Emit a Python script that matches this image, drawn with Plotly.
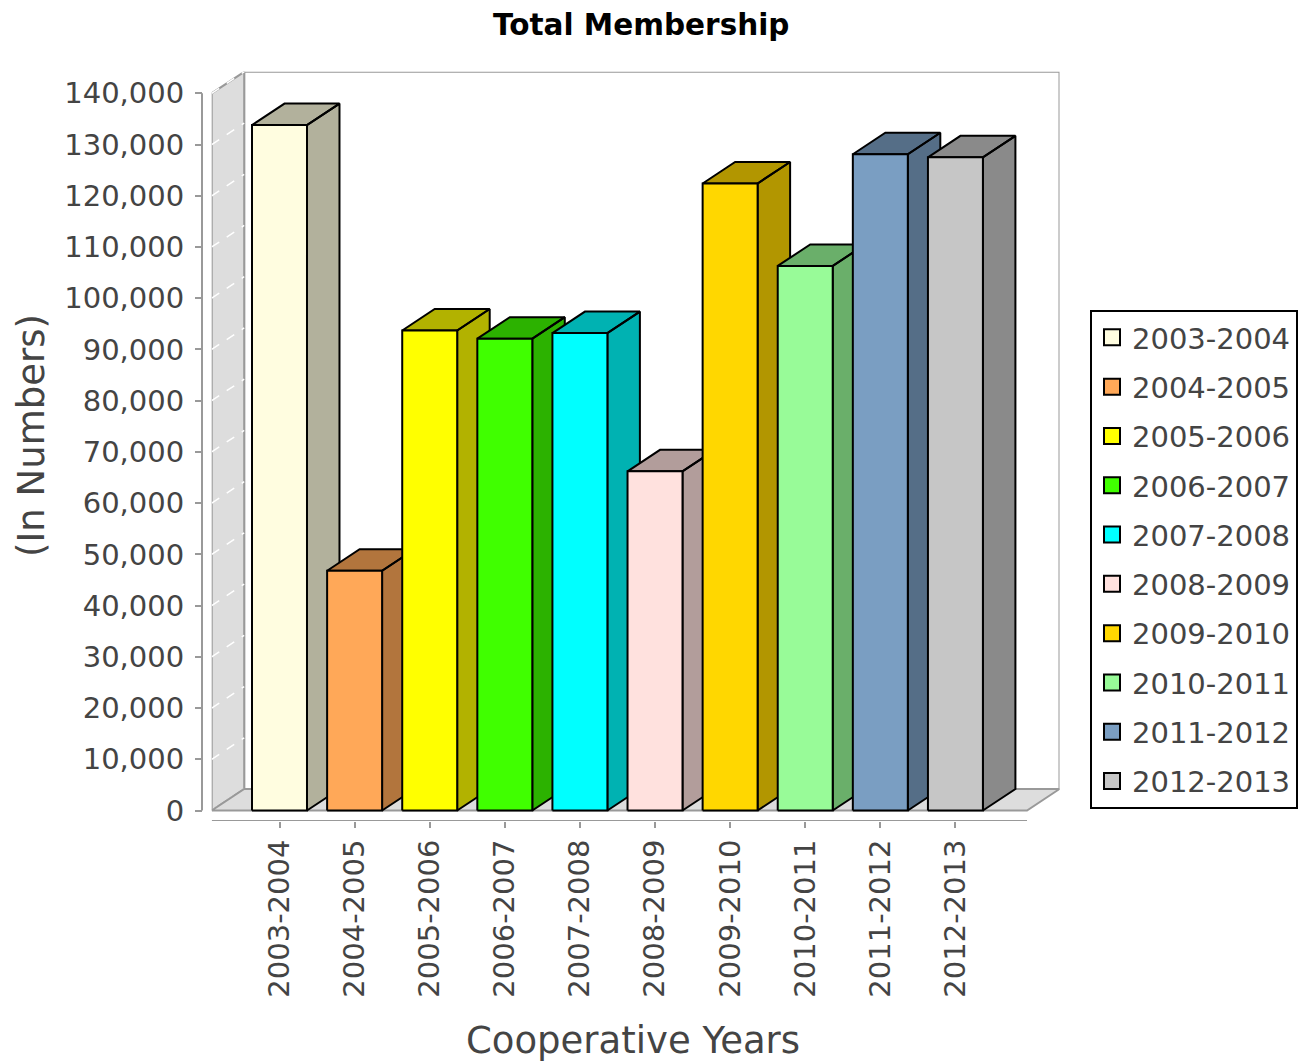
import plotly.graph_objects as go

# ---- data ----
categories = ["2003-2004", "2004-2005", "2005-2006", "2006-2007", "2007-2008",
              "2008-2009", "2009-2010", "2010-2011", "2011-2012", "2012-2013"]
members = [133800, 46800, 93700, 92100, 93200, 66200, 122400, 106300, 128100, 127500]
front_colors = ["#FFFDE0", "#FFA858", "#FFFF00", "#40FF00", "#00FFFF",
                "#FFE1DE", "#FFD700", "#98FB98", "#7A9EC2", "#C6C6C6"]
y_ticks = list(range(0, 140001, 10000))

# ---- geometry (in data units) ----
W, H = 1305, 1062
ML, MR, MT, MB = 100, 0, 60, 20
PW = W - ML - MR
PH = H - MT - MB

bar_w = 0.732          # front face width (category units)
depth_x = 0.4328       # 3D offset in category units
depth_y = 4197         # 3D offset in value units
x_lo, x_hi = -0.9028, 9.953      # front plane extents
y_lo = -2050
y_max = 140000


def darker(hexcol, f=0.7):
    h = hexcol.lstrip("#")
    r, g, b = (int(h[i:i + 2], 16) for i in (0, 2, 4))
    return "#%02X%02X%02X" % (int(r * f), int(g * f), int(b * f))


fig = go.Figure()

wall_line = "#999999"

# back wall
bx0, bx1 = x_lo + depth_x, x_hi + depth_x
fig.add_trace(go.Scatter(
    x=[bx0, bx0, bx1, bx1, bx0], y=[depth_y, y_max + depth_y, y_max + depth_y, depth_y, depth_y],
    mode="lines", fill="toself", fillcolor="#FFFFFF",
    line=dict(color=wall_line, width=2), showlegend=False, hoverinfo="skip"))

# left wall
fig.add_trace(go.Scatter(
    x=[x_lo, x_lo, x_lo + depth_x, x_lo + depth_x, x_lo],
    y=[0, y_max, y_max + depth_y, depth_y, 0],
    mode="lines", fill="toself", fillcolor="#DDDDDD",
    line=dict(color=wall_line, width=2), showlegend=False, hoverinfo="skip"))

# gridlines on the left wall
gx, gy = [], []
for t in y_ticks:
    gx += [x_lo, x_lo + depth_x, None]
    gy += [t, t + depth_y, None]
fig.add_trace(go.Scatter(x=gx, y=gy, mode="lines",
                         line=dict(color="#FFFFFF", width=1.5, dash="dash"),
                         showlegend=False, hoverinfo="skip"))

# floor
fig.add_trace(go.Scatter(
    x=[x_lo, x_lo + depth_x, x_hi + depth_x, x_hi, x_lo],
    y=[0, depth_y, depth_y, 0, 0],
    mode="lines", fill="toself", fillcolor="#DDDDDD",
    line=dict(color=wall_line, width=2), showlegend=False, hoverinfo="skip"))

# bars (drawn left to right so later bars hide earlier side faces)
for i, (cat, v, col) in enumerate(zip(categories, members, front_colors)):
    l, r = i - bar_w / 2, i + bar_w / 2
    sx = [r, r, r + depth_x, r + depth_x, r, None,
          l, l + depth_x, r + depth_x, r, l]
    sy = [0, v, v + depth_y, depth_y, 0, None,
          v, v + depth_y, v + depth_y, v, v]
    fig.add_trace(go.Scatter(x=sx, y=sy, mode="lines", fill="toself",
                             fillcolor=darker(col), line=dict(color="#000000", width=2),
                             showlegend=False, hoverinfo="skip"))
    fig.add_trace(go.Scatter(x=[l, l, r, r, l], y=[0, v, v, 0, 0], mode="lines",
                             fill="toself", fillcolor=col,
                             line=dict(color="#000000", width=2),
                             showlegend=False, name=cat,
                             hovertemplate=cat + ": %{y:,}<extra></extra>"))

# legend entries
for i, (cat, col) in enumerate(zip(categories, front_colors)):
    fig.add_trace(go.Scatter(x=[None], y=[None], mode="markers", name=cat,
                             legendgroup="g%d" % i,
                             marker=dict(symbol="square", size=20, color=col,
                                         line=dict(color="#000000", width=2))))

# category axis line
fig.add_trace(go.Scatter(x=[x_lo, x_hi], y=[y_lo, y_lo], mode="lines",
                         line=dict(color="#999999", width=2),
                         showlegend=False, hoverinfo="skip", cliponaxis=False))

dom_x0 = (211.7 - ML) / PW
dom_x1 = (1059.5 - ML) / PW
dom_y0 = (H - MB - 821) / PH
dom_y1 = (H - MB - 71.8) / PH
yaxis_pos = (202 - ML) / PW

fig.update_layout(
    width=W, height=H,
    margin=dict(l=ML, r=MR, t=MT, b=MB),
    paper_bgcolor="#FFFFFF", plot_bgcolor="rgba(0,0,0,0)",
    font=dict(family="DejaVu Sans", color="#444444"),
    xaxis=dict(domain=[dom_x0, dom_x1], range=[x_lo, x_hi + depth_x],
               tickmode="array", tickvals=list(range(len(categories))), ticktext=categories,
               tickangle=-90, ticks="outside", ticklen=6, tickwidth=2, tickcolor="#999999",
               tickfont=dict(size=29, color="#444444"), ticklabelstandoff=0,
               showgrid=False, zeroline=False, showline=False, fixedrange=True),
    yaxis=dict(domain=[dom_y0, dom_y1], range=[y_lo, y_max + depth_y],
               anchor="free", position=yaxis_pos,
               tickmode="array", tickvals=y_ticks, tickformat=",",
               ticks="outside", ticklen=7, tickwidth=2, tickcolor="#999999",
               tickfont=dict(size=29, color="#444444"), ticklabelstandoff=5,
               showgrid=False, zeroline=False, showline=False, fixedrange=True),
    shapes=[dict(type="line", xref="paper", yref="y", x0=yaxis_pos, x1=yaxis_pos,
                 y0=0, y1=y_max, line=dict(color="#999999", width=2))],
    legend=dict(x=(1090 - ML) / PW, xanchor="left", y=(H - MB - 310) / PH, yanchor="top",
                bordercolor="#000000", borderwidth=2, bgcolor="#FFFFFF",
                font=dict(size=29, color="#444444"), tracegroupgap=8.6,
                itemsizing="trace"),
    annotations=[
        dict(text="<b>Total Membership</b>", xref="paper", yref="paper",
             x=(641 - ML) / PW, y=(H - MB - 25) / PH, xanchor="center", yanchor="middle",
             showarrow=False, font=dict(size=29.5, color="#000000", family="DejaVu Sans")),
        dict(text="Cooperative Years", xref="paper", yref="paper",
             x=(633 - ML) / PW, y=(H - MB - 1040) / PH, xanchor="center", yanchor="middle",
             showarrow=False, font=dict(size=37, color="#444444")),
        dict(text="(In Numbers)", xref="paper", yref="paper", textangle=-90,
             x=(31 - ML) / PW, y=(H - MB - 436) / PH, xanchor="center", yanchor="middle",
             showarrow=False, font=dict(size=37, color="#444444")),
    ],
)

fig.write_html("out.html", config={"displayModeBar": False},
               post_script="document.body.style.margin='0';document.body.style.overflow='hidden';")
